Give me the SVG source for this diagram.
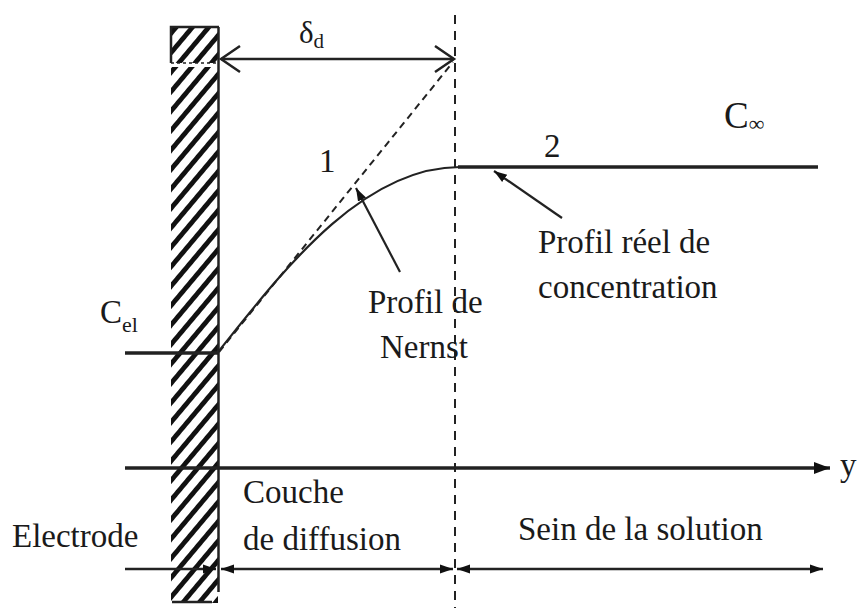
<svg xmlns="http://www.w3.org/2000/svg" width="863" height="608" viewBox="0 0 863 608">
<style>
text{font-family:'Liberation Serif','Times New Roman','DejaVu Serif',serif;fill:#1a1a1a;}
.t{font-size:33px;}
.ln{stroke:#222;fill:none;}
.dash{stroke:#222;fill:none;stroke-width:2;}
</style>
<defs>
<pattern id="hatch" patternUnits="userSpaceOnUse" width="12.5" height="10" patternTransform="rotate(40)">
<rect x="0" y="0" width="4.8" height="10" fill="#111"/>
</pattern>
<clipPath id="elclip"><rect x="171" y="27" width="47" height="576"/></clipPath>
<marker id="fa" markerUnits="userSpaceOnUse" markerWidth="18" markerHeight="16" refX="16" refY="8" orient="auto-start-reverse">
<path d="M0,2 L16,8 L0,14 Z" fill="#111"/>
</marker>
<marker id="fs" markerUnits="userSpaceOnUse" markerWidth="14" markerHeight="12" refX="13" refY="6" orient="auto-start-reverse">
<path d="M0,1.5 L13,6 L0,10.5 Z" fill="#111"/>
</marker>
<marker id="va" markerUnits="userSpaceOnUse" markerWidth="24" markerHeight="30" refX="21" refY="15" orient="auto-start-reverse">
<path d="M2,2 L21,15 L2,28" fill="none" stroke="#222" stroke-width="2.5"/>
</marker>
</defs>

<g id="electrode">
<rect x="171" y="27" width="47" height="576" fill="url(#hatch)" clip-path="url(#elclip)"/>
<rect x="168" y="63" width="52" height="4" fill="#fff"/>
<path class="ln" d="M171,63 V27 H219" stroke-width="2.5"/>
<line class="ln" x1="171" y1="63" x2="219" y2="63" stroke-width="1.5" stroke-dasharray="3,3"/>
<line class="ln" x1="218.5" y1="27" x2="218.5" y2="592" stroke-width="2.5"/>
<line class="ln" x1="172" y1="602" x2="212" y2="602" stroke-width="2.5"/>
</g>

<g id="connectors">
<line class="dash" x1="455" y1="15" x2="455" y2="608" stroke-dasharray="9,7"/>
<line class="ln" x1="221" y1="59" x2="454" y2="59" stroke-width="2.5" marker-start="url(#va)" marker-end="url(#va)"/>
<line class="dash" x1="219" y1="352" x2="453" y2="62" stroke-dasharray="7,5"/>
<path class="ln" d="M218,352 C280,275 360,167 460,167" stroke-width="2.2"/>
<line class="ln" x1="818" y1="167" x2="458" y2="167" stroke="#555" stroke-width="3.5"/>
<line class="ln" x1="125" y1="353" x2="218" y2="353" stroke-width="3.5"/>
<line class="ln" x1="400" y1="272" x2="356" y2="188" stroke-width="2.2" marker-end="url(#fs)"/>
<line class="ln" x1="562" y1="218" x2="494" y2="171" stroke-width="2.2" marker-end="url(#fs)"/>
<line class="ln" x1="125" y1="468" x2="830" y2="468" stroke-width="3.5" marker-end="url(#fa)"/>
<line class="ln" x1="125" y1="569" x2="216" y2="569" stroke-width="2.5" marker-end="url(#fs)"/>
<line class="ln" x1="221" y1="569" x2="453" y2="569" stroke-width="2.5" marker-start="url(#fs)" marker-end="url(#fs)"/>
<line class="ln" x1="457" y1="569" x2="823" y2="569" stroke-width="2.5" marker-start="url(#fs)" marker-end="url(#fs)"/>
</g>

<g id="labels" font-family="Liberation Serif, Times New Roman, DejaVu Serif, serif">
<text x="299" y="43" font-size="31">δ<tspan font-size="21" dy="5">d</tspan></text>
<text class="t" x="319" y="172">1</text>
<text class="t" x="544" y="157">2</text>
<text x="724" y="128" font-size="37">C<tspan font-size="22" dy="3">∞</tspan></text>
<text x="100" y="323" font-size="33">C<tspan font-size="22" dy="9">el</tspan></text>
<text class="t" x="538" y="253">Profil réel de</text>
<text class="t" x="538" y="298">concentration</text>
<text class="t" x="368" y="313">Profil de</text>
<text class="t" x="380" y="358">Nernst</text>
<text class="t" x="12" y="547">Electrode</text>
<text class="t" x="243" y="503">Couche</text>
<text class="t" x="243" y="550">de diffusion</text>
<text class="t" x="518" y="540">Sein de la solution</text>
<text class="t" x="840" y="476">y</text>
</g>
</svg>
